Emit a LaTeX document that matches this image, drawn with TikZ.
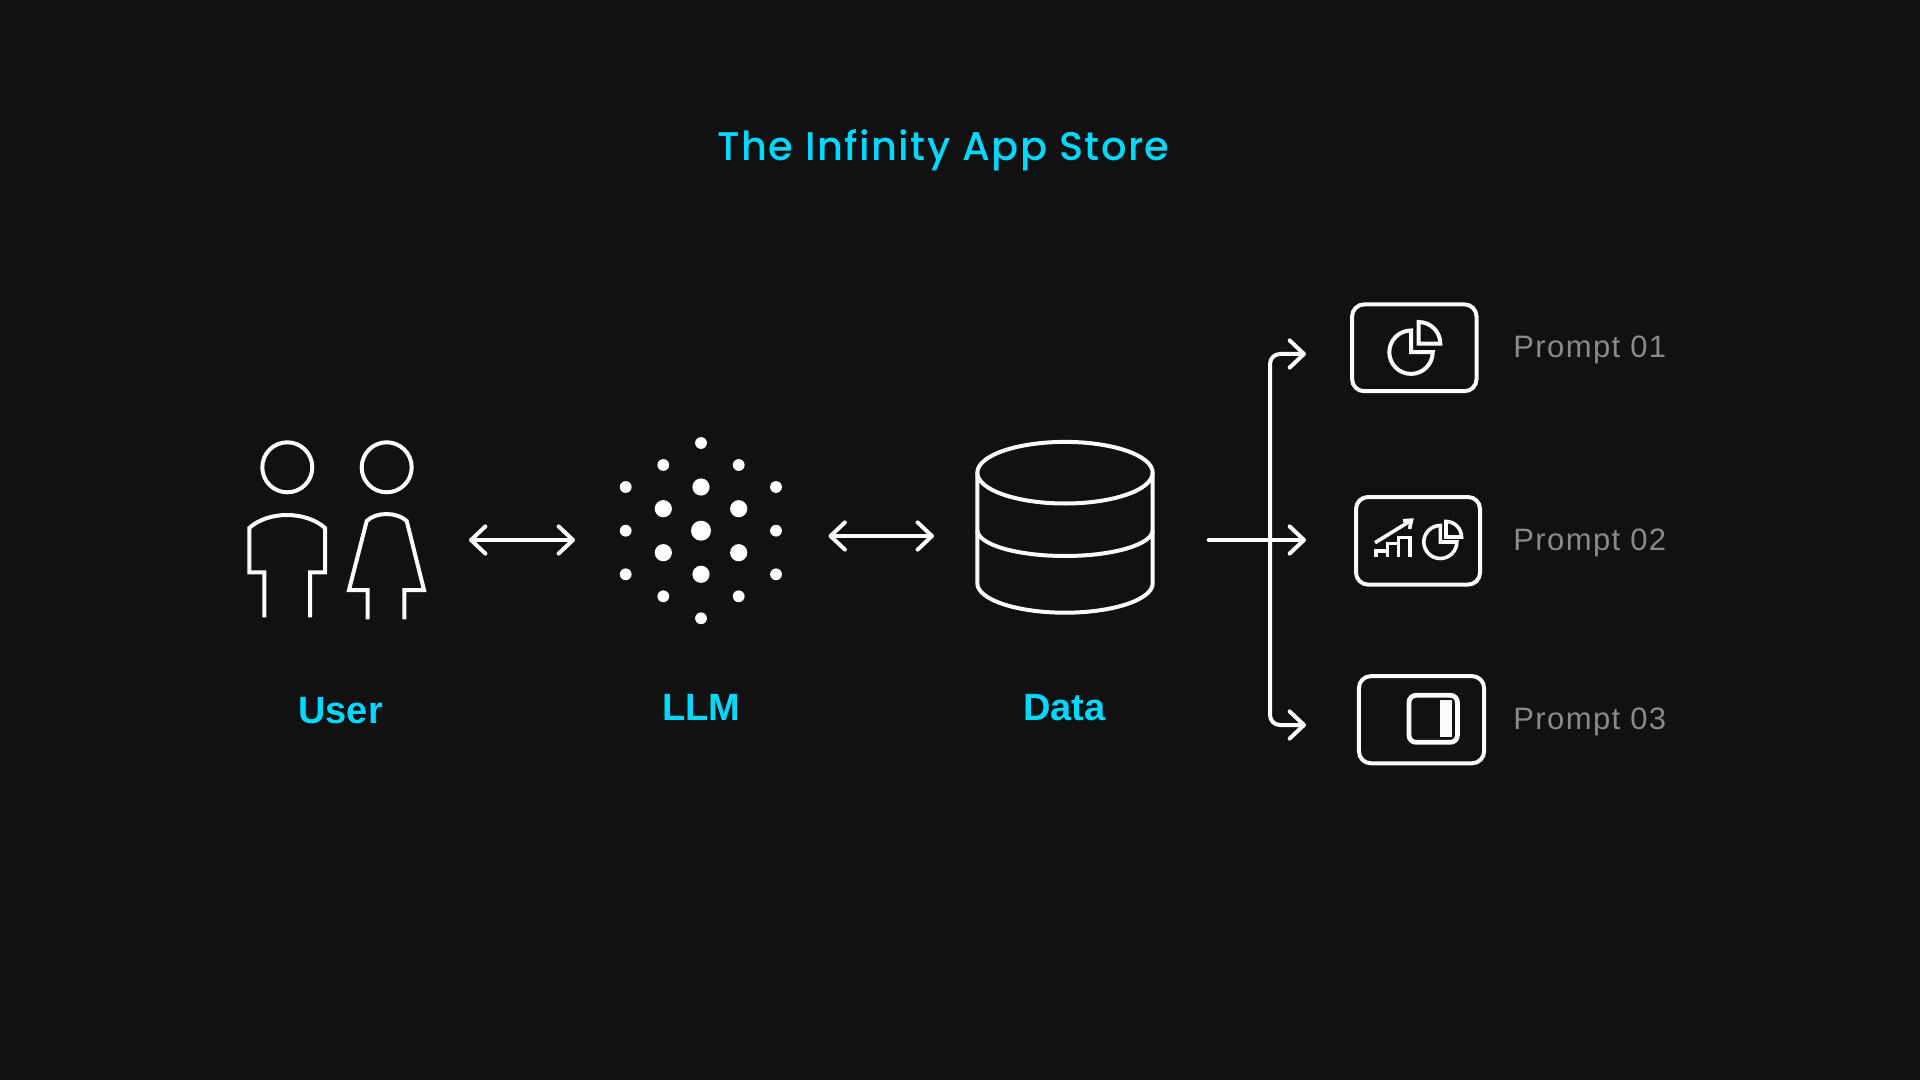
\documentclass[tikz,border=0pt]{standalone}
\usepackage{fontspec}
\usetikzlibrary{arrows.meta,shapes.geometric}
\setmainfont{Liberation Sans}
\newfontfamily\titlefont{Poppins Medium}[LetterSpace=3.6]
\newfontfamily\promptfont{Liberation Sans}[LetterSpace=4.5]
\definecolor{bgdark}{HTML}{111111}
\definecolor{cyanlabel}{HTML}{00D8FF}
\definecolor{promptgrey}{HTML}{8A8A8A}
\definecolor{linewhite}{HTML}{FBFBFB}
\tikzset{
  x=0.5pt,y=-0.5pt,
  icon/.style={draw=linewhite,line width=2pt,line join=miter},
  conn/.style={draw=linewhite,line width=2pt,line cap=round,
    arrows={-Straight Barb[length=7.2pt,width=13.6pt,round]}},
  biconn/.style={draw=linewhite,line width=2pt,line cap=round,
    arrows={Straight Barb[length=7.2pt,width=13.6pt,round]-Straight Barb[length=7.2pt,width=13.6pt,round]}},
  head/.style={circle,icon,inner sep=0,minimum size=25pt},
  tile/.style={draw=linewhite,line width=2pt,rounded corners=6pt,inner sep=0},
  dot/.style={circle,fill=white,inner sep=0,minimum size=#1},
  title/.style={inner sep=0,anchor=base west,text=cyanlabel,font=\titlefont\fontsize{20pt}{24pt}\selectfont},
  capt/.style={inner sep=0,anchor=base west,text=cyanlabel,font=\bfseries\fontsize{19pt}{22pt}\selectfont},
  prompt/.style={inner sep=0,anchor=base west,text=promptgrey,font=\promptfont\fontsize{15.5pt}{18pt}\selectfont},
}
\begin{document}
\begin{tikzpicture}
\useasboundingbox (0,0) rectangle (1920,1080);
\fill[bgdark] (0,0) rectangle (1920,1080);

% title and captions
\node[title] (ttl) at (717,161) {The Infinity App Store};
\node[capt] (usr) at (298,723.5) {User};
\node[capt] (llm) at (662,720) {LLM};
\node[capt] (dta) at (1023,720) {Data};

% people
\node[head] (manhead) at (287.3,467.3) {};
\node[head] (womanhead) at (386.7,467.3) {};
\draw[icon] (264.3,617.3) -- (264.3,572.3) -- (249.3,572.3) -- (249.3,528)
  .. controls (268,510.7) and (306,510.7) .. (325,528)
  -- (325,572.3) -- (310,572.3) -- (310,617.3);
\draw[icon] (367.7,619.3) -- (367.7,590) -- (349,590) -- (366.7,521)
  .. controls (376,511.7) and (397,511.7) .. (406.7,521)
  -- (424,590) -- (404.3,590) -- (404.3,619.3);

% LLM dots
\foreach \px/\py/\sz/\nm in {
  701/443/11.8/a,701/487/17.2/b,701/530.7/20/c,701/574.3/17.2/d,701/618.3/11.8/e,
  663.3/465/11.8/f,663.3/508.7/17.2/g,663.3/552.7/17.2/h,663.3/596.3/11.8/i,
  738.7/465/11.8/j,738.7/508.7/17.2/k,738.7/552.7/17.2/l,738.7/596.3/11.8/m,
  625.7/487/11.8/n,625.7/530.7/11.8/o,625.7/574.3/11.8/p,
  776/487/11.8/q,776/530.7/11.8/r,776/574.3/11.8/s}
  \node[dot=\sz*0.5pt] (dot\nm) at (\px,\py) {};

% database
\node[draw=linewhite,line width=2pt,ellipse,inner sep=0,minimum width=87.7pt,minimum height=30.8pt] (dbtop) at (1065,472.7) {};
\draw[icon] (977.3,472.7) -- (977.3,583.3)
  .. controls (977.3,599.5) and (1016.6,612.7) .. (1065,612.7)
  .. controls (1113.4,612.7) and (1152.7,599.5) .. (1152.7,583.3)
  -- (1152.7,472.7);
\draw[icon] (977.3,530)
  .. controls (977.3,544.4) and (1016.6,556) .. (1065,556)
  .. controls (1113.4,556) and (1152.7,544.4) .. (1152.7,530);

% tiles
\node[tile,minimum width=62.2pt,minimum height=43.4pt] (tileA) at (1414.3,347.8) {};
\node[tile,minimum width=62pt,minimum height=43.8pt] (tileB) at (1418,540.8) {};
\node[tile,minimum width=62.6pt,minimum height=43.6pt] (tileC) at (1421.5,719.7) {};

% pie icon A
\draw[icon] (1411,330.5) arc[start angle=-90,end angle=-360,radius=21.7] -- (1411,352.2) -- cycle;
\draw[icon] (1418.6,322) arc[start angle=-90,end angle=0,radius=21.7] -- (1418.6,343.7) -- cycle;

% chart and pie icon B
\draw[icon,line width=1.8pt] (1375,542.7) -- (1410.5,520.8);
\draw[icon,line width=1.8pt] (1403,520.7) -- (1411.5,520.2) -- (1409.5,529);
\draw[icon,line width=1.8pt] (1376,557) -- (1376,551.2) -- (1387.5,551.2);
\draw[icon,line width=1.8pt] (1387.5,557) -- (1387.5,543.5) -- (1398.5,543.5);
\draw[icon,line width=1.8pt] (1398.5,557) -- (1398.5,537.5) -- (1410,537.5) -- (1410,557);
\draw[icon,line width=1.8pt] (1440.3,525.5) arc[start angle=-90,end angle=-360,radius=16.5] -- (1440.3,542) -- cycle;
\draw[icon,line width=1.8pt] (1446,521.5) arc[start angle=-90,end angle=0,radius=15.5] -- (1446,537) -- cycle;

% panel icon C
\node[draw=linewhite,line width=2.4pt,rounded corners=3.5pt,inner sep=0,minimum width=24.2pt,minimum height=23.5pt] (panel) at (1433.2,718.8) {};
\node[fill=linewhite,inner sep=0,minimum width=5.7pt,minimum height=18.5pt] (panelbar) at (1446,718.5) {};

% prompts
\node[prompt] (pa) at (1513,357.7) {Prompt 01};
\node[prompt] (pb) at (1513,550.7) {Prompt 02};
\node[prompt] (pc) at (1513,729.7) {Prompt 03};

% connectors
\coordinate (ulft) at (469,540);
\coordinate (urgt) at (575,540);
\coordinate (llft) at (828.5,536);
\coordinate (lrgt) at (934,536);
\coordinate (dout) at (1208.7,540);
\coordinate (t1) at (1306,354);
\coordinate (t2) at (1306,540);
\coordinate (t3) at (1306,725);
\coordinate (bt) at (1270,354);
\coordinate (bb) at (1270,725);
\draw[biconn] (ulft) -- (urgt);
\draw[biconn] (llft) -- (lrgt);
\draw[conn] (dout) -- (t2);
\draw[biconn,rounded corners=5pt] (t1) -- (bt) -- (bb) -- (t3);
\end{tikzpicture}
\end{document}
